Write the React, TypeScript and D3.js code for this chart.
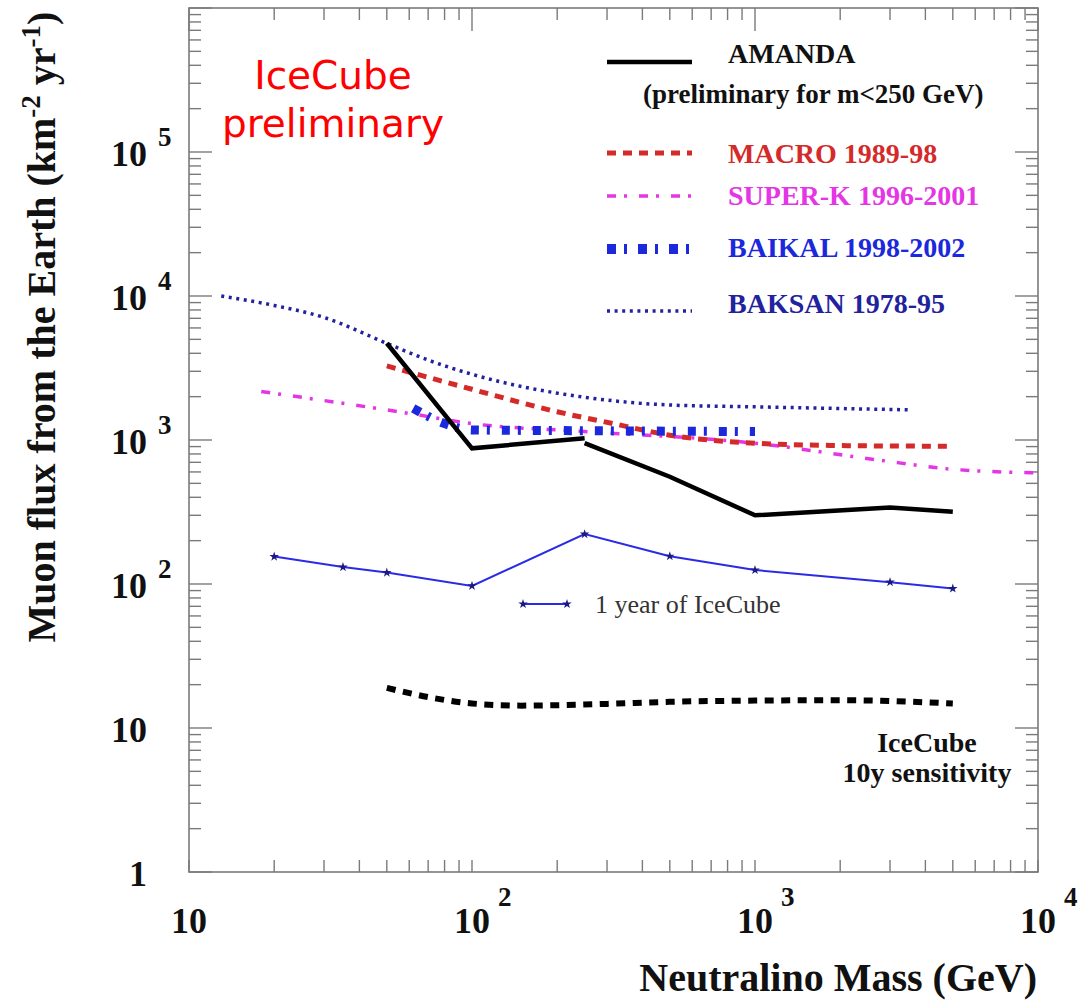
import React from 'react';
import * as d3 from 'd3';

// neutralino mass (GeV) vs muon flux (km^-2 yr^-1)
const amandaLow = [[50, 4700], [100, 875], [250, 1030]];
const amandaHigh = [[250, 950], [500, 556], [1000, 300], [3000, 340], [5000, 318]];
const macro = [[50, 3270], [100, 2250], [200, 1570], [315, 1300], [500, 1080], [1000, 950], [2000, 915], [5000, 905]];
const superK = [[18, 2170], [60, 1530], [100, 1300], [250, 1145], [1000, 950], [2700, 728], [5000, 626], [10000, 592]];
const baikal = [[62, 1660], [80, 1300], [100, 1175], [250, 1160], [1000, 1145]];
const baksan = [[13, 10000], [20, 8600], [30, 7100], [50, 4690], [70, 3590], [100, 2860], [250, 1980], [500, 1750], [1000, 1700], [3500, 1620]];
const icecube1y = [[20, 155], [35, 131], [50, 120], [100, 97], [250, 222], [500, 156], [1000, 125], [3000, 103], [5000, 93]];
const icecube10y = [[50, 19], [70, 16.4], [100, 14.8], [150, 14.3], [200, 14.4], [300, 14.7], [500, 15.2], [1000, 15.5], [2000, 15.6], [5000, 14.8]];

const xTickLabels = [['10', ''], ['10', '2'], ['10', '3'], ['10', '4']];
const yTickLabels = [['1', ''], ['10', ''], ['10', '2'], ['10', '3'], ['10', '4'], ['10', '5']];

const W = 1085;
const H = 1001;
const serif = "'Liberation Serif', 'Times New Roman', serif";

export default function App() {
  const x = d3.scaleLog().domain([10, 1e4]).range([189, 1038]);
  const y = d3.scaleLog().domain([1, 1e6]).range([872, 8]);

  const smooth = d3.line<number[]>().x(d => x(d[0])).y(d => y(d[1])).curve(d3.curveMonotoneX);
  const straight = d3.line<number[]>().x(d => x(d[0])).y(d => y(d[1]));
  const star = d3.symbol().type(d3.symbolStar).size(28)();

  const isMajor = (v: number) => Math.abs(Math.log10(v) - Math.round(Math.log10(v))) < 1e-9;
  const xt = x.ticks();
  const yt = y.ticks();
  const axisColor = '#7a7a7a';

  const [x0, x1] = x.range();
  const [y0, y1] = y.range();

  const legend = [
    { name: 'MACRO 1989-98', color: '#d42a2a', width: 5, dash: '9 7', ly: 153, ty: 163 },
    { name: 'SUPER-K 1996-2001', color: '#e436e4', width: 3.5, dash: '9 8 3 12', ly: 196, ty: 205 },
    { name: 'BAIKAL 1998-2002', color: '#1c28dc', width: 10, dash: '9 8 3 11', ly: 249, ty: 257 },
    { name: 'BAKSAN 1978-95', color: '#22229e', width: 3.5, dash: '3 4.6', ly: 311, ty: 313 },
  ];

  return (
    <svg width={W} height={H} style={{ position: 'absolute', left: 0, top: 0, background: '#fff' }}>
      {/* frame */}
      <rect x={x0} y={y1} width={x1 - x0} height={y0 - y1} fill="none" stroke={axisColor} strokeWidth={1.6} />

      {/* ticks, all drawn inside */}
      {yt.map(v => {
        const len = isMajor(v) ? 23 : 12;
        return (
          <g key={'y' + v} stroke={axisColor} strokeWidth={1.4}>
            <line x1={x0} x2={x0 + len} y1={y(v)} y2={y(v)} />
            <line x1={x1} x2={x1 - len} y1={y(v)} y2={y(v)} />
          </g>
        );
      })}
      {xt.map(v => (
        <g key={'x' + v} stroke={axisColor} strokeWidth={1.4}>
          <line x1={x(v)} x2={x(v)} y1={y0} y2={y0 - 12} />
          <line x1={x(v)} x2={x(v)} y1={y1} y2={y1 + (isMajor(v) ? 23 : 12)} />
        </g>
      ))}

      {/* tick labels */}
      {yTickLabels.map((t, i) => (
        <g key={'yl' + i} fontFamily={serif} fontWeight="bold" fill="#111">
          <text x={147} y={y(Math.pow(10, i)) + 14} fontSize={36} textAnchor="end">{t[0]}</text>
          {t[1] && <text x={158} y={y(Math.pow(10, i)) - 6} fontSize={27}>{t[1]}</text>}
        </g>
      ))}
      {xTickLabels.map((t, i) => (
        <g key={'xl' + i} fontFamily={serif} fontWeight="bold" fill="#111">
          <text x={x(Math.pow(10, i + 1))} y={933} fontSize={36} textAnchor="middle">{t[0]}</text>
          {t[1] && <text x={x(Math.pow(10, i + 1)) + 26} y={906} fontSize={27}>{t[1]}</text>}
        </g>
      ))}

      {/* axis titles */}
      <text x={1037} y={991} textAnchor="end" fontFamily={serif} fontWeight="bold" fontSize={40} fill="#111">
        Neutralino Mass (GeV)
      </text>
      <text transform="translate(55,327) rotate(-90)" textAnchor="middle" fontFamily={serif} fontWeight="bold" fontSize={40} fill="#111">
        Muon flux from the Earth (km<tspan dy={-15} fontSize={27}>-2</tspan>
        <tspan dy={15}> yr</tspan>
        <tspan dy={-15} fontSize={27}>-1</tspan>
        <tspan dy={15}>)</tspan>
      </text>

      {/* data curves */}
      <path d={smooth(baksan) || ''} fill="none" stroke="#22229e" strokeWidth={3.5} strokeDasharray="3 4.6" />
      <path d={smooth(superK) || ''} fill="none" stroke="#e436e4" strokeWidth={3.5} strokeDasharray="9 8 3 12" />
      <path d={smooth(macro) || ''} fill="none" stroke="#d42a2a" strokeWidth={5} strokeDasharray="9 7" />
      <path d={smooth(baikal) || ''} fill="none" stroke="#1c28dc" strokeWidth={9} strokeDasharray="8 8 3 12" />
      <path d={straight(amandaLow) || ''} fill="none" stroke="#000" strokeWidth={4.5} />
      <path d={straight(amandaHigh) || ''} fill="none" stroke="#000" strokeWidth={4.5} />
      <path d={straight(icecube1y) || ''} fill="none" stroke="#2b2be6" strokeWidth={2} />
      {icecube1y.map((d, i) => (
        <path key={'s' + i} d={star || ''} transform={`translate(${x(d[0])},${y(d[1])})`} fill="#1a1a80" />
      ))}
      <path d={smooth(icecube10y) || ''} fill="none" stroke="#000" strokeWidth={6} strokeDasharray="9 7.5" />

      {/* legend */}
      <line x1={607} x2={692} y1={62} y2={62} stroke="#000" strokeWidth={4.5} />
      <text x={728} y={63} fontFamily={serif} fontWeight="bold" fontSize={28} fill="#111">AMANDA</text>
      <text x={643} y={103} fontFamily={serif} fontWeight="bold" fontSize={27} fill="#111">(preliminary for m&lt;250 GeV)</text>
      {legend.map(l => (
        <g key={l.name}>
          <line x1={607} x2={692} y1={l.ly} y2={l.ly} stroke={l.color} strokeWidth={l.width} strokeDasharray={l.dash} />
          <text x={728} y={l.ty} fontFamily={serif} fontWeight="bold" fontSize={28} fill={l.color}>{l.name}</text>
        </g>
      ))}

      <line x1={523} x2={567} y1={604} y2={604} stroke="#2b2be6" strokeWidth={2} />
      <path d={star || ''} transform="translate(523,604)" fill="#1a1a80" />
      <path d={star || ''} transform="translate(567,604)" fill="#1a1a80" />
      <text x={595} y={613} fontFamily={serif} fontSize={26} fill="#333">1 year of IceCube</text>

      <g fontFamily={serif} fontWeight="bold" fontSize={28} fill="#111" textAnchor="middle">
        <text x={927} y={752}>IceCube</text>
        <text x={927} y={782}>10y sensitivity</text>
      </g>

      <g fontFamily="'DejaVu Sans', sans-serif" fontSize={39} fill="#ff0000" textAnchor="middle">
        <text x={333} y={89}>IceCube</text>
        <text x={333} y={137}>preliminary</text>
      </g>
    </svg>
  );
}
